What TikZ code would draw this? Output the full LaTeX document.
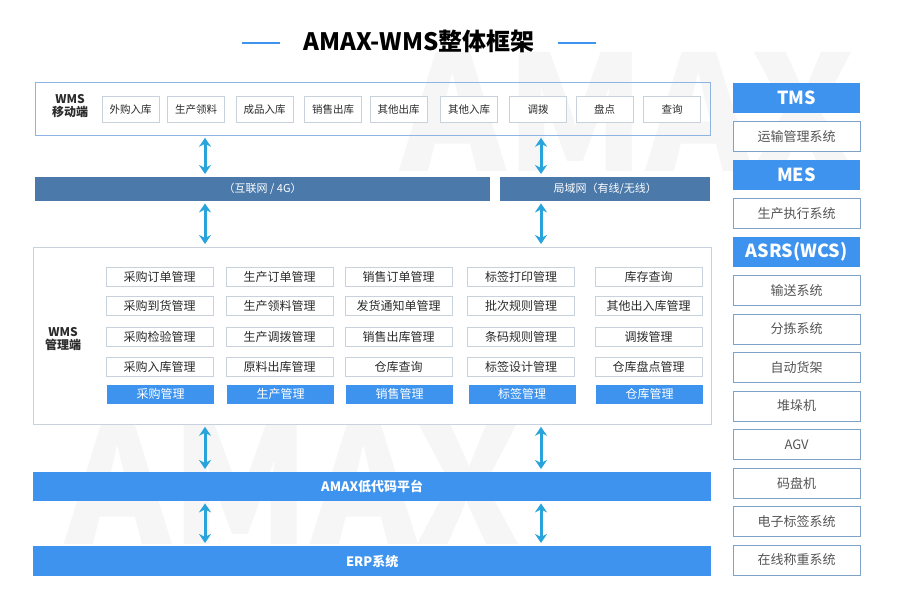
\documentclass[tikz,border=0pt]{standalone}
\usepackage{fontspec}
\setmainfont{Noto Sans CJK SC}
\usetikzlibrary{arrows.meta,positioning}
\definecolor{amaxblue}{HTML}{3D93EE}
\definecolor{amaxsteel}{HTML}{4A79AA}
\definecolor{amaxcyan}{HTML}{29A3DB}
\definecolor{amaxline}{HTML}{8DB4E2}
\definecolor{amaxgrey}{HTML}{C8D2DC}
\definecolor{amaxedge}{HTML}{7FA3C7}
\definecolor{amaxink}{HTML}{2B2B2B}
\definecolor{amaxsoft}{HTML}{555555}
\definecolor{amaxmark}{HTML}{F6F6F6}

\begin{document}
\begin{tikzpicture}[x=1pt,y=-1pt,
  panel/.style={draw=amaxline,line width=0.8pt,anchor=north west,inner sep=0pt},
  tag/.style={align=center,font=\bfseries\fontsize{12}{13.5}\selectfont,text=amaxink},
  item/.style={draw=amaxgrey,fill=white,minimum width=57pt,minimum height=26pt,
              inner sep=0pt,font=\fontsize{10.5}{12}\selectfont,text=amaxink},
  func/.style={draw=amaxgrey,fill=white,minimum width=107pt,minimum height=19pt,
              inner sep=0pt,font=\fontsize{12}{14}\selectfont,text=amaxink},
  head/.style={fill=amaxblue,minimum width=107pt,minimum height=19pt,
              inner sep=0pt,font=\fontsize{12}{14}\selectfont,text=white},
  net/.style={fill=amaxsteel,anchor=north west,minimum height=24pt,inner sep=0pt,
              font=\fontsize{11}{13}\selectfont,text=white},
  bar/.style={fill=amaxblue,anchor=north west,minimum width=678pt,minimum height=29pt,
              inner sep=0pt,font=\bfseries\fontsize{13}{15}\selectfont,text=white},
  sysh/.style={fill=amaxblue,minimum width=127pt,minimum height=30pt,inner sep=0pt,
              font=\bfseries\fontsize{18}{20}\selectfont,text=white},
  sysb/.style={draw=amaxedge,line width=0.8pt,fill=white,minimum width=127pt,
              minimum height=30pt,inner sep=0pt,font=\fontsize{13}{15}\selectfont,
              text=amaxsoft},
  arr/.style={{Stealth[length=9pt,width=12pt]}-{Stealth[length=9pt,width=12pt]},
              line width=3pt,amaxcyan,shorten <=2pt,shorten >=3pt}]
  \useasboundingbox (0,0) rectangle (900,604);
  \fill[white] (0,0) rectangle (900,604);
  % watermark
  \begin{scope}
    \clip (0,0) rectangle (900,604);
    \node[anchor=west,inner sep=0pt,text=amaxmark,
          font=\bfseries\fontsize{160}{160}\selectfont] (wm1) at (400,112) {AMAX};
    \node[anchor=west,inner sep=0pt,text=amaxmark,
          font=\bfseries\fontsize{160}{160}\selectfont] (wm2) at (65,485) {AMAX};
  \end{scope}
  % title
  \node[font=\bfseries\fontsize{24}{28}\selectfont,text=black] (title) at (419,41)
       {AMAX-WMS整体框架};
  \draw[amaxblue,line width=2.5pt] ([xshift=-20pt,yshift=-2pt]title.west) -- ++(-38,0);
  \draw[amaxblue,line width=2.5pt] ([xshift=20pt,yshift=-2pt]title.east) -- ++(38,0);
  % mobile side
  \node[panel,minimum width=675pt,minimum height=53pt] (mob) at (35,82) {};
  \node[tag] (mobtag) at (70,106) {WMS\\移动端};
  \foreach \t/\x [count=\i] in {外购入库/130.5,生产领料/196,成品入库/264.5,
      销售出库/333,其他出库/398.5,其他入库/469,调拨/538,盘点/604.5,查询/672}
    \node[item] (mob\i) at (\x,109.5) {\t};
  % networks
  \node[net,minimum width=455pt] (inet) at (35,177) {（互联网 / 4G）};
  \node[net,minimum width=210pt] (lan) at (500,177) {局域网（有线/无线）};
  % management side
  \node[panel,draw=amaxgrey,minimum width=678pt,minimum height=177pt] (mgmt) at (33,247) {};
  \node[tag] (mgmttag) at (63,339) {WMS\\管理端};
  \foreach \x/\a/\b/\c/\d/\h [count=\i] in {
      159.5/采购订单管理/采购到货管理/采购检验管理/采购入库管理/采购管理,
      279.5/生产订单管理/生产领料管理/生产调拨管理/原料出库管理/生产管理,
      398.5/销售订单管理/发货通知单管理/销售出库管理/仓库查询/销售管理,
      521/标签打印管理/批次规则管理/条码规则管理/标签设计管理/标签管理,
      648.5/库存查询/其他出入库管理/调拨管理/仓库盘点管理/仓库管理} {
    \node[func] (m\i a) at (\x,277) {\a};
    \node[func] (m\i b) at (\x,306) {\b};
    \node[func] (m\i c) at (\x,337) {\c};
    \node[func] (m\i d) at (\x,367) {\d};
    \node[head] (m\i h) at (\x+1,394) {\h};
  }
  % platform and erp
  \node[bar] (plat) at (33,472) {AMAX低代码平台};
  \node[bar,minimum height=30pt] (erp) at (33,546) {ERP系统};
  % side systems
  \foreach \t/\s [count=\i] in {TMS/sysh,运输管理系统/sysb,MES/sysh,生产执行系统/sysb,
      ASRS(WCS)/sysh,输送系统/sysb,分拣系统/sysb,自动货架/sysb,堆垛机/sysb,AGV/sysb,
      码盘机/sysb,电子标签系统/sysb,在线称重系统/sysb}
    \node[\s] (sys\i) at (796.5,{98+(\i-1)*38.5}) {\t};
  % links
  \coordinate (lx) at (205,0);
  \coordinate (rx) at (541,0);
  \draw[arr] (mob.south -| lx) -- (inet.north -| lx);
  \draw[arr] (mob.south -| rx) -- (lan.north -| rx);
  \draw[arr] (inet.south -| lx) -- (mgmt.north -| lx);
  \draw[arr] (lan.south -| rx) -- (mgmt.north -| rx);
  \draw[arr] (mgmt.south -| lx) -- (plat.north -| lx);
  \draw[arr] (mgmt.south -| rx) -- (plat.north -| rx);
  \draw[arr] (plat.south -| lx) -- (erp.north -| lx);
  \draw[arr] (plat.south -| rx) -- (erp.north -| rx);
\end{tikzpicture}
\end{document}
